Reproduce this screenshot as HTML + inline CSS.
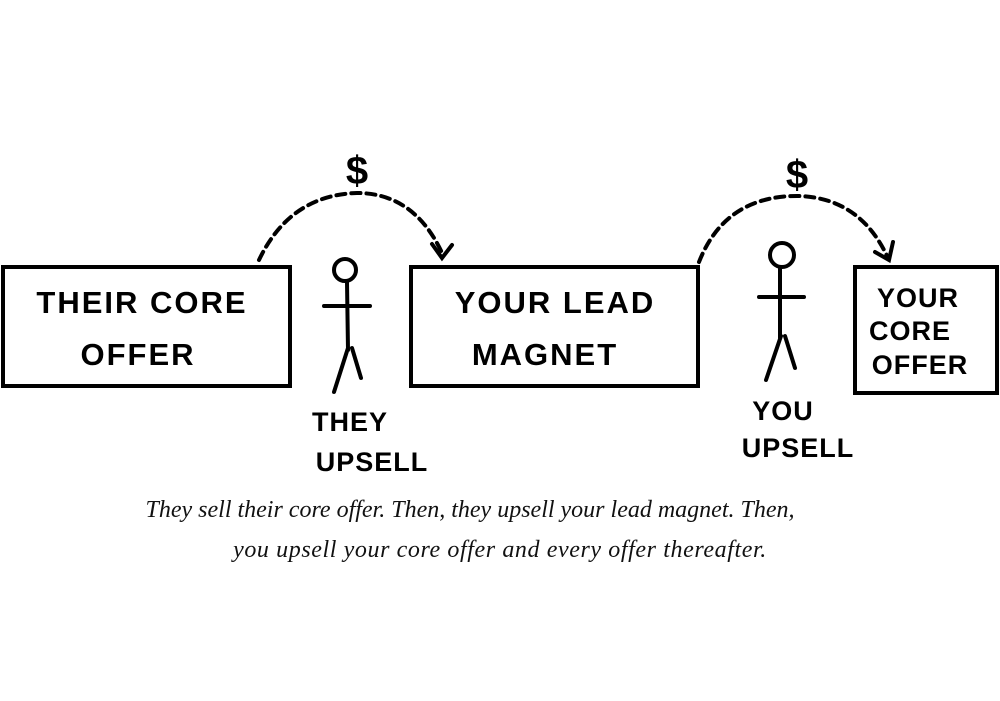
<!DOCTYPE html>
<html><head><meta charset="utf-8"><style>
html,body{margin:0;padding:0;background:#fff;width:1000px;height:701px;overflow:hidden}
svg{position:absolute;left:0;top:0}
.cap{position:absolute;font-family:"Liberation Serif",serif;font-style:italic;font-size:24px;color:#111;white-space:nowrap;text-align:center}
</style></head><body>
<svg width="1000" height="701" viewBox="0 0 1000 701">
<g fill="none" stroke="#000" stroke-width="4" stroke-linecap="round">
<rect x="3" y="267" width="287" height="119"/>
<rect x="411" y="267" width="287" height="119"/>
<rect x="855" y="267" width="142" height="126"/>
<path d="M259 260 Q290 195 357 193 Q415 193 443 255" stroke-dasharray="9 6"/>
<path d="M432 244 L442 258 L452 245"/>
<path d="M699 262 Q725 196 797 196 Q860 197 888 258" stroke-dasharray="9 6"/>
<path d="M875 252 L889 260 L893 242"/>
<circle cx="345" cy="270" r="11"/>
<path d="M347 282 L348 350 M324 306 L370 306 M348 348 L334 392 M352 348 L361 378"/>
<circle cx="782" cy="255" r="12"/>
<path d="M780 268 L780 338 M759 297 L804 297 M781 336 L766 380 M785 336 L795 368"/>
</g>
<g font-family="Liberation Sans, sans-serif" font-weight="bold" fill="#000" text-anchor="middle">
<text x="357" y="184" font-size="40">$</text>
<text x="797" y="188" font-size="40">$</text>
<text x="142" y="313" font-size="31" letter-spacing="2">THEIR CORE</text>
<text x="138" y="365" font-size="31" letter-spacing="2">OFFER</text>
<text x="555" y="313" font-size="31" letter-spacing="2">YOUR LEAD</text>
<text x="545" y="365" font-size="31" letter-spacing="2">MAGNET</text>
<text x="918" y="307" font-size="27" letter-spacing="1">YOUR</text>
<text x="910" y="340" font-size="27" letter-spacing="1">CORE</text>
<text x="920" y="374" font-size="27" letter-spacing="1">OFFER</text>
<text x="350" y="431" font-size="27" letter-spacing="1">THEY</text>
<text x="372" y="471" font-size="27" letter-spacing="1">UPSELL</text>
<text x="783" y="420" font-size="27" letter-spacing="1">YOU</text>
<text x="798" y="457" font-size="27" letter-spacing="1">UPSELL</text>
</g>
</svg>
<div class="cap" style="left:100px;top:497px;width:740px">They sell their core offer. Then, they upsell your lead magnet. Then,</div>
<div class="cap" style="left:150px;top:537px;width:700px;letter-spacing:0.6px">you upsell your core offer and every offer thereafter.</div>
</body></html>
